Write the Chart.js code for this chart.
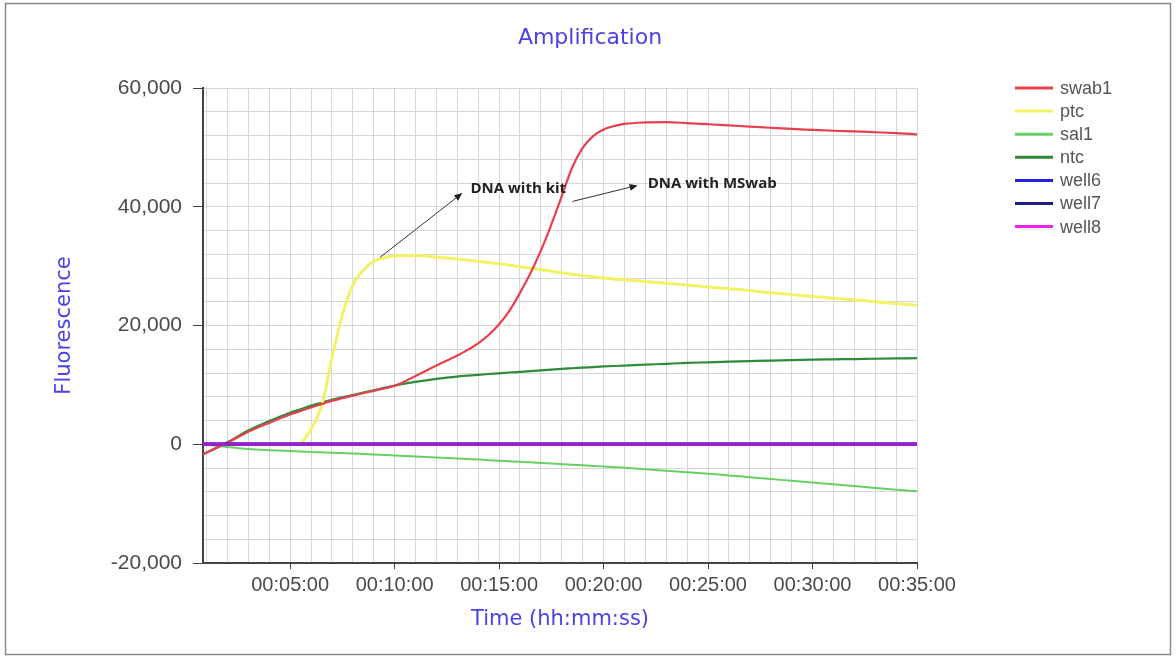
<!DOCTYPE html>
<html><head><meta charset="utf-8">
<script src="https://cdn.jsdelivr.net/npm/chart.js@4.4.1/dist/chart.umd.min.js"></script>
<style>html,body{margin:0;padding:0;background:#fff;}canvas{display:block;}</style>
</head><body>
<canvas id="c" width="1176" height="659"></canvas>
<script>
// ---- data (time in minutes) ----
const minutes = [0.83,2,3,4,5,5.5,6,6.5,7,7.5,8,8.5,9,9.5,10,11,12,13,13.5,14,14.5,15,15.5,16,16.5,17,17.5,18,18.5,19,19.5,20,20.5,21,22,23,24,25,26,27,28,29,30,31,32,33,34,35];
const swab1 = [-1700,250,2100,3600,5000,5600,6200,6750,7300,7750,8200,8600,9000,9400,9800,11500,13250,14950,15900,17000,18400,20200,22500,25500,28800,32600,37000,41800,46600,49900,51900,53000,53600,53950,54200,54250,54100,53900,53700,53500,53300,53100,52950,52800,52700,52550,52400,52200];
const ptc = [0,0,0,0,0,200,2600,6400,14500,21800,26800,29300,30800,31400,31700,31800,31500,31200,31000,30800,30600,30400,30150,29900,29650,29400,29150,28900,28650,28400,28200,28000,27850,27700,27400,27100,26800,26500,26200,25900,25500,25200,24900,24600,24300,24000,23700,23400];
const sal1 = [0,-450,-800,-1000,-1150,-1220,-1300,-1360,-1420,-1490,-1560,-1640,-1720,-1800,-1880,-2050,-2230,-2400,-2490,-2580,-2680,-2770,-2860,-2950,-3050,-3150,-3250,-3350,-3450,-3550,-3650,-3750,-3860,-3970,-4200,-4450,-4700,-4950,-5250,-5550,-5850,-6150,-6450,-6750,-7050,-7350,-7650,-7900];
const ntc = [-1700,350,2300,3900,5300,5900,6500,7000,7500,7900,8300,8700,9100,9500,9900,10500,11000,11400,11550,11700,11830,11950,12080,12200,12320,12450,12580,12700,12800,12900,13000,13100,13180,13250,13400,13550,13700,13800,13900,14000,14100,14180,14250,14300,14350,14400,14450,14500];
const well6 = [0,0,0,0,0,0,0,0,0,0,0,0,0,0,0,0,0,0,0,0,0,0,0,0,0,0,0,0,0,0,0,0,0,0,0,0,0,0,0,0,0,0,0,0,0,0,0,0];
const well7 = [0,0,0,0,0,0,0,0,0,0,0,0,0,0,0,0,0,0,0,0,0,0,0,0,0,0,0,0,0,0,0,0,0,0,0,0,0,0,0,0,0,0,0,0,0,0,0,0];
const well8 = [0,0,0,0,0,0,0,0,0,0,0,0,0,0,0,0,0,0,0,0,0,0,0,0,0,0,0,0,0,0,0,0,0,0,0,0,0,0,0,0,0,0,0,0,0,0,0,0];

const seriesNames = ['swab1','ptc','sal1','ntc','well6','well7','well8'];
const seriesValues = [swab1, ptc, sal1, ntc, well6, well7, well8];

// ---- ticks ----
const xLabelMinutes = [5,10,15,20,25,30,35];
const xGridMinutes = [1,2,3,4,5,6,7,8,9,10,11,12,13,14,15,16,17,18,19,20,21,22,23,24,25,26,27,28,29,30,31,32,33,34,35];
const yLabelValues = [-20000,0,20000,40000,60000];
const yGridValues = [-20000,-16000,-12000,-8000,-4000,0,4000,8000,12000,16000,20000,24000,28000,32000,36000,40000,44000,48000,52000,56000,60000];

// ---- annotations (data units) ----
const notes = [
  {text:'DNA with kit', from:[9.31,31500], to:[13.24,42300], at:[13.63,43100]},
  {text:'DNA with MSwab', from:[18.51,40900], to:[21.63,43600], at:[22.11,43800]}
];

// ---- styles ----
const seriesColors = ['#e5404c','#f2f266','#66d066','#2e8b3a','#2020e6','#1c1c8a','#ee22ee'];
const lineColors  = ['#e5404c','#f2f266','#66d066','#2e8b3a','#2020e6','#1c1c8a','rgba(238,34,238,0.6)'];
const lineWidths  = [2.2,3,2,2.2,3.5,3.5,3.5];
const drawOrder   = [0,0,0,0,-1,-2,-3];
const BLUE = '#4b41e6';

function pad2(n){ return String(n).padStart(2,'0'); }

const datasets = seriesNames.map((name,i)=>({
  label: name,
  data: minutes.map((m,j)=>({x:m, y:seriesValues[i][j]})),
  borderColor: lineColors[i],
  backgroundColor: lineColors[i],
  borderWidth: lineWidths[i],
  pointRadius: 0,
  cubicInterpolationMode: 'monotone',
  order: drawOrder[i],
  legendColor: seriesColors[i]
}));

const framePlugin = {
  id:'frame',
  beforeDraw(chart){
    const c = chart.ctx;
    c.save();
    c.fillStyle = '#fff';
    c.fillRect(0,0,chart.width,chart.height);
    c.strokeStyle = '#8a8a8a';
    c.lineWidth = 1.5;
    c.strokeRect(5.5,3.5,1165,651);
    c.restore();
  }
};

const decorPlugin = {
  id:'decor',
  afterDraw(chart){
    const c = chart.ctx, xs = chart.scales.x, ys = chart.scales.y;
    c.save();
    // title
    c.fillStyle = BLUE;
    c.font = '22px "DejaVu Sans"';
    c.textAlign = 'center';
    c.textBaseline = 'middle';
    c.fillText('Amplification', 590, 38);
    // legend
    c.font = '18px "Liberation Sans"';
    c.textAlign = 'left';
    chart.data.datasets.forEach((ds,i)=>{
      const y = 88 + i*23.1;
      c.strokeStyle = ds.legendColor;
      c.lineWidth = 3;
      c.beginPath(); c.moveTo(1015,y); c.lineTo(1053,y); c.stroke();
      c.fillStyle = '#555';
      c.fillText(ds.label, 1060, y+1);
    });
    // annotations
    notes.forEach(n=>{
      const x1 = xs.getPixelForValue(n.from[0]), y1 = ys.getPixelForValue(n.from[1]);
      const x2 = xs.getPixelForValue(n.to[0]), y2 = ys.getPixelForValue(n.to[1]);
      const ang = Math.atan2(y2-y1, x2-x1);
      c.strokeStyle = '#333'; c.fillStyle = '#222'; c.lineWidth = 1;
      c.beginPath(); c.moveTo(x1,y1); c.lineTo(x2 - 6*Math.cos(ang), y2 - 6*Math.sin(ang)); c.stroke();
      c.beginPath();
      c.moveTo(x2,y2);
      c.lineTo(x2 - 8*Math.cos(ang) + 3.5*Math.sin(ang), y2 - 8*Math.sin(ang) - 3.5*Math.cos(ang));
      c.lineTo(x2 - 8*Math.cos(ang) - 3.5*Math.sin(ang), y2 - 8*Math.sin(ang) + 3.5*Math.cos(ang));
      c.closePath(); c.fill();
      c.font = 'bold 15px "Open Sans"';
      c.textAlign = 'left'; c.textBaseline = 'middle';
      c.fillText(n.text, xs.getPixelForValue(n.at[0]), ys.getPixelForValue(n.at[1]));
    });
    c.restore();
  }
};

new Chart(document.getElementById('c'), {
  type:'line',
  data:{ datasets },
  options:{
    responsive:false, animation:false, devicePixelRatio:1,
    layout:{ padding:{left:30, right:259, top:88, bottom:10} },
    plugins:{ legend:{display:false}, title:{display:false}, tooltip:{enabled:false} },
    scales:{
      x:{
        type:'linear', min:0.83, max:35,
        afterFit: s => { s.height = 86; },
        afterBuildTicks: s => { s.ticks = xGridMinutes.map(v=>({value:v})); },
        border:{display:true, color:'#444', width:2},
        grid:{color:'#d6d6d6', lineWidth:1, drawTicks:true, tickLength:6,
              tickColor: c => (c.tick && xLabelMinutes.includes(c.tick.value)) ? '#444' : 'rgba(0,0,0,0)'},
        ticks:{autoSkip:false, maxRotation:0, minRotation:0, padding:4, color:'#4a4a4a',
               font:{family:'Liberation Sans', size:20},
               callback: v => xLabelMinutes.includes(v) ? '00:' + pad2(v) + ':00' : ''},
        title:{display:true, text:'Time (hh:mm:ss)', color:BLUE, font:{family:'DejaVu Sans', size:21}, padding:{top:0, bottom:17}}
      },
      y:{
        min:-20000, max:60000,
        afterFit: s => { s.width = 173; },
        afterBuildTicks: s => { s.ticks = yGridValues.map(v=>({value:v})); },
        border:{display:true, color:'#444', width:2},
        grid:{color:'#d6d6d6', lineWidth:1, drawTicks:true, tickLength:10,
              tickColor: c => (c.tick && yLabelValues.includes(c.tick.value)) ? '#444' : 'rgba(0,0,0,0)'},
        ticks:{autoSkip:false, padding:11, color:'#4a4a4a',
               font:{family:'Liberation Sans', size:21},
               callback: v => yLabelValues.includes(v) ? v.toLocaleString('en-US') : ''},
        title:{display:true, text:'Fluorescence', color:BLUE, font:{family:'DejaVu Sans', size:21}, padding:{top:22, bottom:0}}
      }
    }
  },
  plugins:[framePlugin, decorPlugin]
});
</script>
</body></html>
